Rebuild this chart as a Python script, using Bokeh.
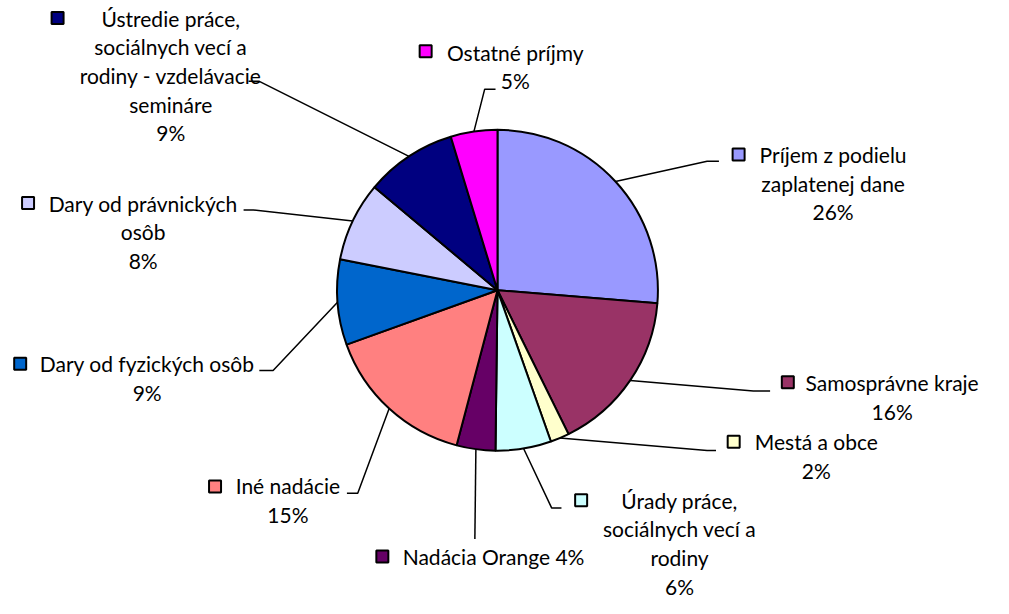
import numpy as np
from bokeh.plotting import figure
from bokeh.models import Range1d, ColumnDataSource
from bokeh.core.properties import value
from bokeh.embed import file_html
from bokeh.resources import INLINE

# ---- data ----
categories = ["Príjem z podielu zaplatenej dane", "Samosprávne kraje", "Mestá a obce",
              "Úrady práce, sociálnych vecí a rodiny", "Nadácia Orange", "Iné nadácie",
              "Dary od fyzických osôb", "Dary od právnických osôb",
              "Ústredie práce, sociálnych vecí a rodiny - vzdelávacie semináre", "Ostatné príjmy"]
values = [26.3, 16.4, 1.9, 5.6, 3.9, 15.4, 8.6, 8.0, 9.2, 4.7]
colors = ["#9999FF", "#993366", "#FFFFCC", "#CCFFFF", "#660066", "#FF8080",
          "#0066CC", "#CCCCFF", "#000080", "#FF00FF"]
label_lines = [["Príjem z podielu", "zaplatenej dane"], ["Samosprávne kraje"], ["Mestá a obce"],
               ["Úrady práce,", "sociálnych vecí a", "rodiny"], ["Nadácia Orange"], ["Iné nadácie"],
               ["Dary od fyzických osôb"], ["Dary od právnických", "osôb"],
               ["Ústredie práce,", "sociálnych vecí a", "rodiny - vzdelávacie", "semináre"],
               ["Ostatné príjmy"]]
pct_inline = [False, False, False, False, True, False, False, False, False, False]

# ---- layout (reference pixel coordinates, y down) ----
W, H = 1009, 614
PW, PH = 993, 598
CX, CY, R = 505, 297.5, 163
label_cx = [846, 906, 829, 690, 501, 292, 149, 145, 173, 523]
label_y0 = [158, 392, 453, 513, 571, 498, 373, 208, 18, 53]
LINE_H = 29.5
marker_xy = [(750, 158), (800, 392), (745, 453), (590, 513), (388, 571), (218, 499),
             (20, 373), (28, 208), (58, 18), (432, 52)]
elbow = [(718, 165), (765, 401), (718, 462), (560, 521), (482, 553), (363, 506),
         (277, 380), (257, 215), (263, 83), (492, 91)]
end_x = [730, 782, 727, 570, 482, 352, 263, 247, 252, 503]
FONT = "Lato"
FSIZE = "21px"

def Y(y):
    return H - y

p = figure(width=PW, height=PH, x_range=Range1d(0, W), y_range=Range1d(0, H),
           x_axis_type=None, y_axis_type=None, toolbar_location=None,
           output_backend="svg", min_border=0)
p.grid.visible = False
p.outline_line_color = None
p.background_fill_color = "white"
p.border_fill_color = "white"

vals = np.array(values, dtype=float)
frac = vals / vals.sum()
cum = np.cumsum(frac)
start = np.concatenate([[0], cum[:-1]])
start_ang = np.pi / 2 - start * 2 * np.pi
end_ang = np.pi / 2 - cum * 2 * np.pi
mid = (start + cum) / 2 * 2 * np.pi  # clockwise from top

src = ColumnDataSource(dict(x=[CX] * len(vals), y=[Y(CY)] * len(vals),
                            s=start_ang, e=end_ang, c=colors, cat=categories))
p.wedge(x="x", y="y", radius=R, start_angle="s", end_angle="e", direction="clock",
        fill_color="c", line_color="black", line_width=2, source=src)

# leader lines (pie drawn as a screen circle; correct y radius for scale difference)
ry = R * (PW / W) / (PH / H)
xs, ys = [], []
for i in range(len(vals)):
    ex = CX + R * np.sin(mid[i])
    ey = CY - ry * np.cos(mid[i])
    xs.append([ex, elbow[i][0], end_x[i]])
    ys.append([Y(ey), Y(elbow[i][1]), Y(elbow[i][1])])
p.multi_line(xs=xs, ys=ys, line_color="black", line_width=1.5)

# markers
p.scatter(x=[m[0] for m in marker_xy], y=[Y(m[1]) for m in marker_xy], marker="square",
          size=12, fill_color=colors, line_color="black", line_width=2)

# texts
tx, ty, tt = [], [], []
for i in range(len(vals)):
    pct = f"{round(frac[i] * 100)}%"
    lines = list(label_lines[i])
    if pct_inline[i]:
        lines[-1] = lines[-1] + " " + pct
    else:
        lines.append(pct)
    for k, ln in enumerate(lines):
        tx.append(label_cx[i])
        ty.append(Y(label_y0[i] + k * LINE_H))
        tt.append(ln)
p.text(x=tx, y=ty, text=tt, text_align="center", text_baseline="middle",
       text_font=value(FONT), text_font_size=FSIZE, text_color="#000000")

open("out.html", "w").write(file_html(p, INLINE))
